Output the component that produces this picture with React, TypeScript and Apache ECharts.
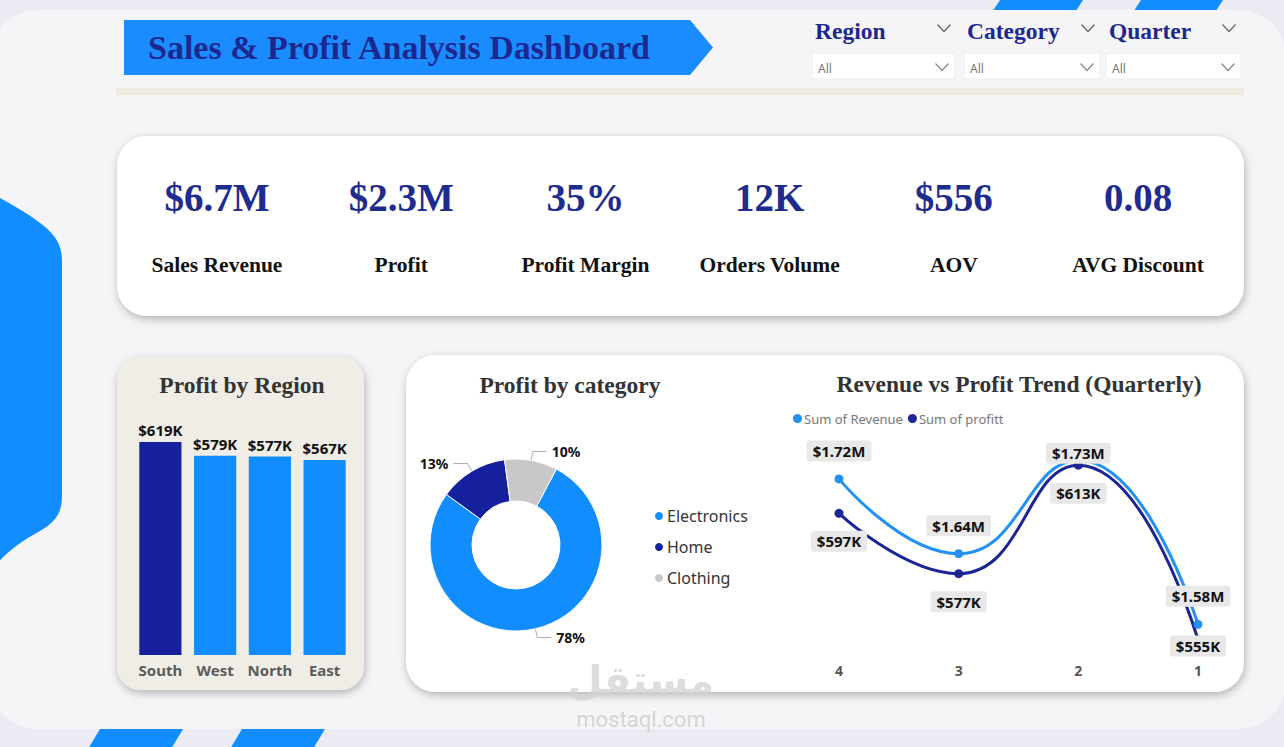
import React, { useEffect, useRef } from "react";
import * as echarts from "echarts";

const regions = ["South", "West", "North", "East"];
const regionProfitK = [619, 579, 577, 567];
const categories = ["Electronics", "Home", "Clothing"];
const categorySharePct = [78, 13, 10];
const quarters = ["4", "3", "2", "1"];
const revenueK = [1716, 1644, 1734, 1576];
const profitK = [597, 577, 613, 555];
const kpiValues = ["$6.7M", "$2.3M", "35%", "12K", "$556", "0.08"];
const kpiLabels = ["Sales Revenue", "Profit", "Profit Margin", "Orders Volume", "AOV", "AVG Discount"];
const filterNames = ["Region", "Category", "Quarter"];
const filterValues = ["All", "All", "All"];

const BLUE = "#118dff";
const NAVY = "#16209c";
const TITLE_NAVY = "#1c2890";
const SERIF = '"Liberation Serif", "DejaVu Serif", serif';
const SANS = '"Noto Sans", "Open Sans", sans-serif';

echarts.graphic.registerShape(
  "sideBlob",
  echarts.graphic.extendPath(
    "M -5 195 C 12 205 30 214 44 226 C 57 237 62 246 62 262 L 62 496 C 62 512 56 522 40 531 C 24 540 8 550 -5 566 Z",
    {}
  )
);

function txt(text: string, x: number, y: number, opts: any = {}) {
  const align = opts.align || "left";
  return {
    type: "text",
    z: opts.z ?? 0,
    style: {
      text,
      x,
      y,
      fill: opts.fill || "#222",
      fontSize: opts.size || 14,
      fontWeight: opts.weight || "normal",
      fontFamily: opts.family || SANS,
      align,
      textAlign: align,
      verticalAlign: "middle",
      textVerticalAlign: "middle",
      opacity: opts.opacity ?? 1,
    },
  };
}

function chevron(cx: number, cy: number, w: number, h: number, color: string) {
  return {
    type: "polyline",
    shape: { points: [[cx - w / 2, cy - h / 2], [cx, cy + h / 2], [cx + w / 2, cy - h / 2]] },
    style: { stroke: color, lineWidth: 1.2, fill: null },
  };
}

function para(y0: number, y1: number, xl: number, xr: number, ySlopeRef: number, slope: number) {
  const pt = (x: number, y: number) => [x - (y - ySlopeRef) * slope, y];
  return {
    type: "polygon",
    shape: { points: [pt(xl, y0), pt(xr, y0), pt(xr, y1), pt(xl, y1)] },
    style: { fill: BLUE },
  };
}

const cardShadow = { shadowBlur: 8, shadowOffsetX: 1, shadowOffsetY: 3, shadowColor: "rgba(0,0,0,0.28)" };

export default function App() {
  const ref = useRef<HTMLDivElement>(null);

  useEffect(() => {
    if (!ref.current) return;
    const chart = echarts.init(ref.current, undefined, { renderer: "svg" });

    const graphics: any[] = [];
    graphics.push({ type: "rect", shape: { x: 0, y: 0, width: 1284, height: 747 }, style: { fill: "#ecebf3" } });
    graphics.push(para(-5, 25, 1000, 1083, 0, 0.65));
    graphics.push(para(-5, 25, 1141, 1223, 0, 0.65));
    graphics.push(para(712, 760, 100, 183, 729, 0.6));
    graphics.push(para(712, 760, 242, 325, 729, 0.6));
    graphics.push({ type: "rect", shape: { x: -10, y: 10, width: 1296, height: 719, r: 48 }, style: { fill: "#f5f5f7" } });
    graphics.push({ type: "sideBlob", x: 0, y: 0, style: { fill: BLUE } });

    graphics.push({
      type: "polygon",
      shape: { points: [[124, 20], [690, 20], [713, 47.5], [690, 75], [124, 75]] },
      style: { fill: "#1a8cff" },
    });
    graphics.push(txt("Sales & Profit Analysis Dashboard", 148, 47, { size: 34, weight: "bold", family: SERIF, fill: TITLE_NAVY }));
    graphics.push({ type: "rect", shape: { x: 116, y: 88, width: 1128, height: 7 }, style: { fill: "#efebe0" } });

    const fHeadX = [815, 967, 1109];
    const fChevX = [944, 1088, 1229];
    const fBoxX = [812, 964, 1106];
    const fBoxW = [143, 136, 135];
    filterNames.forEach((n, i) => {
      graphics.push(txt(n, fHeadX[i], 31, { size: 23.5, weight: "bold", family: SERIF, fill: TITLE_NAVY }));
      graphics.push(chevron(fChevX[i], 28, 13, 7, "#666"));
      graphics.push({
        type: "rect",
        shape: { x: fBoxX[i], y: 53, width: fBoxW[i], height: 26, r: 2 },
        style: { fill: "#ffffff", stroke: "#ececec", lineWidth: 1 },
      });
      graphics.push(txt(filterValues[i], fBoxX[i] + 6, 68, { size: 12, fill: "#777" }));
      graphics.push(chevron(fBoxX[i] + fBoxW[i] - 13, 67, 13, 7, "#888"));
    });

    graphics.push({
      type: "rect",
      shape: { x: 117, y: 136, width: 1127, height: 180, r: 30 },
      style: { fill: "#ffffff", ...cardShadow },
    });
    kpiValues.forEach((v, i) => {
      const cx = 217 + i * 184.2;
      graphics.push(txt(v, cx, 197, { size: 39, weight: "bold", family: SERIF, fill: "#1e2b8f", align: "center" }));
      graphics.push(txt(kpiLabels[i], cx, 265, { size: 21.5, weight: "bold", family: SERIF, fill: "#111", align: "center" }));
    });

    graphics.push({
      type: "rect",
      shape: { x: 117, y: 357, width: 247, height: 333, r: 24 },
      style: { fill: "#efede5", ...cardShadow },
    });
    graphics.push(txt("Profit by Region", 242, 385, { size: 23.5, weight: "bold", family: SERIF, fill: "#333", align: "center" }));

    graphics.push({
      type: "rect",
      shape: { x: 406, y: 355, width: 838, height: 337, r: 30 },
      style: { fill: "#ffffff", ...cardShadow },
    });
    graphics.push(txt("Profit by category", 570, 385, { size: 23.5, weight: "bold", family: SERIF, fill: "#333", align: "center" }));
    graphics.push(
      txt("Revenue vs Profit Trend (Quarterly)", 1019, 384, { size: 23.5, weight: "bold", family: SERIF, fill: "#333", align: "center" })
    );

    graphics.push(txt("مستقل", 641, 680, { size: 40, weight: "bold", family: '"DejaVu Sans", sans-serif', fill: "#d2d2d2", align: "center", z: 100, opacity: 0.75 }));
    graphics.push(txt("mostaql.com", 641, 719, { size: 22, family: '"Roboto", "Noto Sans", sans-serif', fill: "#cfcfcf", align: "center", z: 100, opacity: 0.85 }));

    const sansBold = { fontFamily: SANS, fontWeight: "bold" as const };
    const lineLabel = {
      show: true,
      color: "#111",
      fontSize: 15,
      ...sansBold,
      backgroundColor: "#e8e8e8",
      borderRadius: 3,
      padding: [3, 6],
      distance: 13,
    };

    const option: any = {
      animation: false,
      graphic: { elements: graphics },
      grid: [
        { left: 133, top: 421, width: 219, height: 234 },
        { left: 839, top: 429, width: 359, height: 226 },
      ],
      xAxis: [
        {
          type: "category",
          gridIndex: 0,
          data: regions,
          axisLine: { show: false },
          axisTick: { show: false },
          axisLabel: { color: "#5b5b5b", fontSize: 15, margin: 7, interval: 0, ...sansBold },
        },
        {
          type: "category",
          gridIndex: 1,
          data: quarters,
          boundaryGap: false,
          axisLine: { show: false },
          axisTick: { show: false },
          axisLabel: { color: "#555", fontSize: 14, margin: 8, interval: 0, ...sansBold },
        },
      ],
      yAxis: [
        { type: "value", gridIndex: 0, min: 0, max: 680, show: false },
        { type: "value", gridIndex: 1, min: 1546.5, max: 1764, show: false },
        { type: "value", gridIndex: 1, min: 550, max: 625, show: false },
      ],
      legend: [
        {
          data: categories,
          orient: "vertical",
          left: 648,
          top: 503,
          itemGap: 15,
          icon: "circle",
          itemWidth: 10,
          itemHeight: 10,
          textStyle: { fontSize: 16, color: "#333", fontFamily: SANS, padding: [0, 0, 0, -2] },
          selectedMode: false,
        },
        {
          data: ["Sum of Revenue", "Sum of profitt"],
          left: 788,
          top: 407,
          itemGap: 5,
          icon: "circle",
          itemWidth: 9,
          itemHeight: 9,
          textStyle: { fontSize: 13, color: "#777", fontFamily: SANS, padding: [0, 0, 0, -3] },
          selectedMode: false,
        },
      ],
      series: [
        {
          type: "bar",
          xAxisIndex: 0,
          yAxisIndex: 0,
          barCategoryGap: "23%",
          data: regionProfitK.map((v, i) => ({ value: v, itemStyle: { color: i === 0 ? NAVY : BLUE } })),
          label: {
            show: true,
            position: "top",
            distance: 4,
            color: "#111",
            fontSize: 15,
            ...sansBold,
            formatter: (p: any) => `$${p.value}K`,
          },
        },
        {
          type: "pie",
          center: [516, 545],
          radius: [44, 86],
          startAngle: 62,
          data: categories.map((c, i) => ({
            name: c,
            value: categorySharePct[i],
            itemStyle: { color: [BLUE, NAVY, "#c8c8c8"][i] },
          })),
          itemStyle: { borderColor: "#fff", borderWidth: 1 },
          label: { show: true, formatter: "{c}%", color: "#111", fontSize: 14, ...sansBold },
          labelLine: { show: true, length: 9, length2: 14, lineStyle: { color: "#aaa", width: 1 } },
        },
        {
          name: "Sum of Revenue",
          type: "line",
          xAxisIndex: 1,
          yAxisIndex: 1,
          smooth: 0.5,
          symbol: "circle",
          symbolSize: 9,
          color: "#2391f3",
          lineStyle: { width: 3 },
          data: revenueK.map((v, i) => (i === 2 ? { value: v, label: { offset: [0, 21] } } : v)),
          label: { ...lineLabel, position: "top", formatter: (p: any) => `$${(p.value / 1000).toFixed(2)}M` },
        },
        {
          name: "Sum of profitt",
          type: "line",
          xAxisIndex: 1,
          yAxisIndex: 2,
          smooth: 0.5,
          symbol: "circle",
          symbolSize: 9,
          color: "#1c2596",
          lineStyle: { width: 3 },
          data: profitK.map((v, i) => (i === 3 ? { value: v, label: { offset: [0, -22] } } : v)),
          label: { ...lineLabel, position: "bottom", formatter: (p: any) => `$${p.value}K` },
        },
      ],
    };

    chart.setOption(option);
    return () => chart.dispose();
  }, []);

  return <div ref={ref} style={{ position: "absolute", left: 0, top: 0, width: 1284, height: 747 }} />;
}
